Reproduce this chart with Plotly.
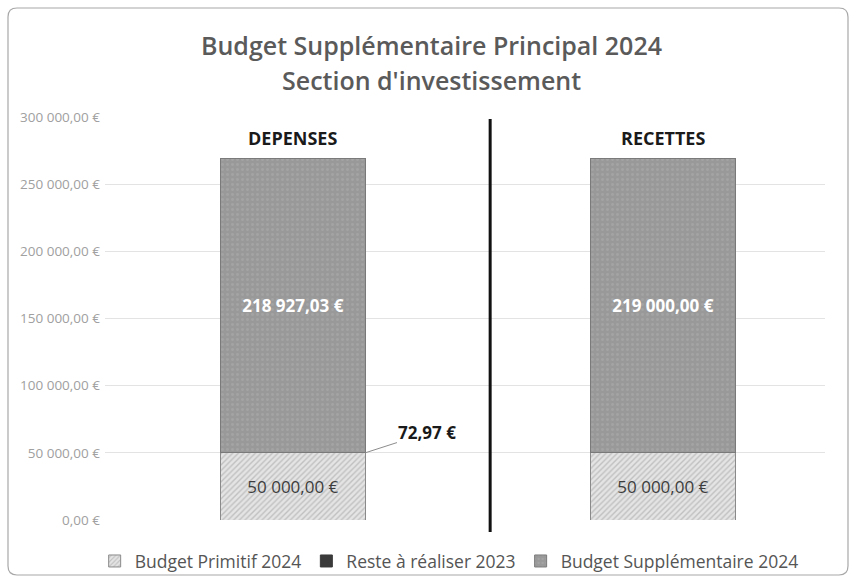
import plotly.graph_objects as go

# Investment section: spending vs. income, stacked by budget source
categories = ["DEPENSES", "RECETTES"]
budget_primitif = [50000.00, 50000.00]
reste_a_realiser = [72.97, 0.00]
budget_supplementaire = [218927.03, 219000.00]
series_names = ["Budget Primitif 2024", "Reste à réaliser 2023", "Budget Supplémentaire 2024"]
y_ticks = [0, 50000, 100000, 150000, 200000, 250000, 300000]
title_lines = ["Budget Supplémentaire Principal 2024", "Section d'investissement"]

FONT = "Open Sans"


def fr_money(v):
    s = f"{v:,.2f}".replace(",", " ").replace(".", ",")
    return s + " €"


fig = go.Figure()

fig.add_trace(go.Bar(
    name=series_names[0], x=categories, y=budget_primitif,
    width=0.392,
    marker=dict(
        color="#dedede",
        line=dict(color="#8a8a8a", width=1),
        pattern=dict(shape="/", fgcolor="#9c9c9c", bgcolor="#e4e4e4", size=4, solidity=0.35),
    ),
    text=[fr_money(v) for v in budget_primitif],
    textposition="inside", insidetextanchor="middle", textangle=0,
    textfont=dict(family=FONT, size=17, color="#3d3d3d"),
))

fig.add_trace(go.Bar(
    name=series_names[1], x=categories, y=reste_a_realiser,
    width=0.392,
    marker=dict(color="#3a3a3a", line=dict(color="#3a3a3a", width=1)),
    textposition="none",
))

fig.add_trace(go.Bar(
    name=series_names[2], x=categories, y=budget_supplementaire,
    width=0.392,
    marker=dict(
        color="#9a9a9a",
        line=dict(color="#7a7a7a", width=1),
        pattern=dict(shape=".", fgcolor="#b0b0b0", bgcolor="#999999", size=5, solidity=0.25),
    ),
    text=[fr_money(v) for v in budget_supplementaire],
    textposition="inside", insidetextanchor="middle", textangle=0,
    textfont=dict(family=FONT, size=17, color="white", weight="bold"),
))

totals = [a + b + c for a, b, c in zip(budget_primitif, reste_a_realiser, budget_supplementaire)]

annotations = []
# Column headings above each stack
for cat, tot in zip(categories, totals):
    annotations.append(dict(
        x=cat, y=tot, xref="x", yref="y", text=f"<b>{cat}</b>", showarrow=False,
        yanchor="bottom", yshift=7, font=dict(family=FONT, size=18, color="#1a1a1a"),
    ))

# Callout for the thin "Reste à réaliser" slice on the spending stack
annotations.append(dict(
    x=0.196, y=budget_primitif[0] + reste_a_realiser[0], xref="x", yref="y",
    text=f"<b>{fr_money(reste_a_realiser[0])}</b>",
    showarrow=True, arrowhead=0, arrowwidth=1, arrowcolor="#8c8c8c",
    ax=62, ay=-20, standoff=0,
    font=dict(family=FONT, size=17, color="#1a1a1a"),
))

# Two-line title
annotations.append(dict(
    x=0.453, y=1.179, xref="paper", yref="paper", text=title_lines[0], showarrow=False,
    yanchor="middle", font=dict(family=FONT, size=25, color="#5a5a5a", weight=600),
))
annotations.append(dict(
    x=0.453, y=1.092, xref="paper", yref="paper", text=title_lines[1], showarrow=False,
    yanchor="middle", font=dict(family=FONT, size=25, color="#5a5a5a", weight=600),
))

# Rounded chart frame (paper coordinates, plot area is 720 x 403 px)
px_x, px_y = 720.0, 403.0
fx0, fx1 = (8 - 105) / px_x, (848 - 105) / px_x
fy0, fy1 = (520 - 575) / px_y, (520 - 8) / px_y
rx, ry = 9 / px_x, 9 / px_y
frame = (
    f"M {fx0 + rx} {fy1} L {fx1 - rx} {fy1} Q {fx1} {fy1} {fx1} {fy1 - ry} "
    f"L {fx1} {fy0 + ry} Q {fx1} {fy0} {fx1 - rx} {fy0} "
    f"L {fx0 + rx} {fy0} Q {fx0} {fy0} {fx0} {fy0 + ry} "
    f"L {fx0} {fy1 - ry} Q {fx0} {fy1} {fx0 + rx} {fy1} Z"
)

shapes = [
    dict(type="path", path=frame, xref="paper", yref="paper",
         line=dict(color="#a8a8a8", width=1.2), layer="below"),
    # Separator between spending and income
    dict(type="line", x0=0.533, x1=0.533, y0=-0.03, y1=0.995, xref="x", yref="paper",
         line=dict(color="#111111", width=3)),
]

fig.update_layout(
    width=856, height=583,
    margin=dict(l=105, r=31, t=117, b=63, autoexpand=False),
    paper_bgcolor="white", plot_bgcolor="white",
    barmode="stack",
    separators=", ",
    font=dict(family=FONT, color="#595959"),
    showlegend=True,
    legend=dict(
        orientation="h", x=0.478, xanchor="center", y=-0.102, yanchor="middle",
        font=dict(family=FONT, size=17.5, color="#555555"),
        bgcolor="rgba(0,0,0,0)",
        traceorder="normal", itemwidth=30, tracegroupgap=0,
    ),
    xaxis=dict(
        range=[-0.508, 1.438], showticklabels=False, showgrid=False, zeroline=False,
        showline=False, fixedrange=True,
    ),
    yaxis=dict(
        range=[0, 300000], tickmode="array", tickvals=y_ticks,
        ticktext=[fr_money(v) for v in y_ticks],
        showgrid=True, gridcolor="#e3e3e3", gridwidth=1, zeroline=False, showline=False,
        tickfont=dict(family=FONT, size=13.5, color="#a0a0a0"), ticks="", ticklabelstandoff=4,
    ),
    annotations=annotations,
    shapes=shapes,
)

fig.write_html("out.html")
